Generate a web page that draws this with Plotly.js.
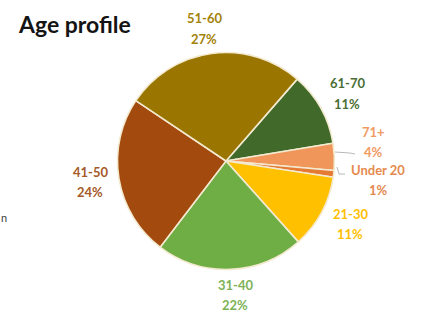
<!DOCTYPE html>
<html>
<head>
<meta charset="utf-8">
<script src="https://cdn.plot.ly/plotly-3.0.1.min.js"></script>
<style>html,body{margin:0;padding:0;background:#fff;}#chart{width:422px;height:314px;}</style>
</head>
<body>
<div id="chart"></div>
<script>
// Data
const categories = ["61-70", "71+", "Under 20", "21-30", "31-40", "41-50", "51-60"];
const percents = [11, 4, 1, 11, 22, 24, 27];
const sliceColors = ["#416A2A", "#F0965A", "#E57A35", "#FFC000", "#6FAE45", "#A34A0E", "#9A7600"];
const labelColors = ["#4A6E33", "#F09A62", "#E58A4E", "#FFC000", "#7DB356", "#A65A2A", "#A38208"];
// label centre positions in pixels [x, yName, yPct]
const labelPos = [[347, 83, 104], [373, 132, 152], [378, 170, 190], [350, 214, 234], [235, 285, 305], [90, 172, 192], [204, 18, 39]];

const W = 422, H = 314;
const px = x => x / W;
const py = y => 1 - y / H;

const cx = 226, cy = 161, r = 108.5;

const annotations = [];
categories.forEach((c, i) => {
  const p = labelPos[i];
  annotations.push({xref: 'paper', yref: 'paper', x: px(p[0]), y: py(p[1]), text: '<b>' + c + '</b>', showarrow: false,
    xanchor: 'center', yanchor: 'middle', font: {family: 'Lato, sans-serif', size: 13, color: labelColors[i]}});
  annotations.push({xref: 'paper', yref: 'paper', x: px(p[0]), y: py(p[2]), text: '<b>' + percents[i] + '%</b>', showarrow: false,
    xanchor: 'center', yanchor: 'middle', font: {family: 'Lato, sans-serif', size: 13, color: labelColors[i]}});
});
annotations.push({xref: 'paper', yref: 'paper', x: px(16), y: py(24), text: '<b>Age profile</b>', showarrow: false,
  xanchor: 'left', yanchor: 'middle', font: {family: 'Lato, sans-serif', size: 23, color: '#141414'}});
annotations.push({xref: 'paper', yref: 'paper', x: px(-1), y: py(217), text: 'n', showarrow: false,
  xanchor: 'left', yanchor: 'middle', font: {family: 'Lato, sans-serif', size: 11, color: '#404040'}});

function pathPx(pts) {
  return pts.map((p, i) => (i ? 'L' : 'M') + px(p[0]) + ',' + py(p[1])).join(' ');
}
const leaderShapes = [
  [[335, 152], [350, 153], [355, 154]],
  [[337, 167], [339, 174], [345, 174]]
].map(pts => ({type: 'path', xref: 'paper', yref: 'paper', path: pathPx(pts), line: {color: '#A6A6A6', width: 0.8}}));

const trace = {
  type: 'pie',
  labels: categories,
  values: percents,
  sort: false,
  direction: 'clockwise',
  rotation: 41,
  marker: {colors: sliceColors, line: {color: '#F3EAD0', width: 1.6}},
  textinfo: 'none',
  hoverinfo: 'none',
  showlegend: false,
  domain: {x: [px(cx - r), px(cx + r)], y: [py(cy + r), py(cy - r)]}
};

Plotly.newPlot('chart', [trace], {
  width: W, height: H,
  margin: {l: 0, r: 0, t: 0, b: 0},
  paper_bgcolor: '#fff',
  showlegend: false,
  annotations: annotations,
  shapes: leaderShapes
}, {staticPlot: true});
</script>
</body>
</html>
